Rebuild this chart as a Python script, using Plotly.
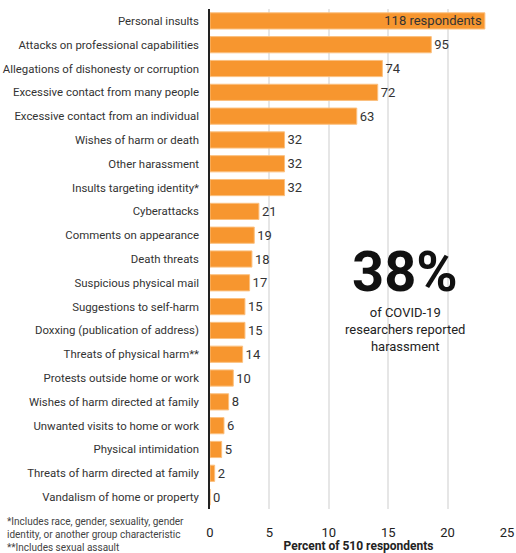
import plotly.graph_objects as go

categories = [
    "Personal insults",
    "Attacks on professional capabilities",
    "Allegations of dishonesty or corruption",
    "Excessive contact from many people",
    "Excessive contact from an individual",
    "Wishes of harm or death",
    "Other harassment",
    "Insults targeting identity*",
    "Cyberattacks",
    "Comments on appearance",
    "Death threats",
    "Suspicious physical mail",
    "Suggestions to self-harm",
    "Doxxing (publication of address)",
    "Threats of physical harm**",
    "Protests outside home or work",
    "Wishes of harm directed at family",
    "Unwanted visits to home or work",
    "Physical intimidation",
    "Threats of harm directed at family",
    "Vandalism of home or property",
]
counts = [118, 95, 74, 72, 63, 32, 32, 32, 21, 19, 18, 17, 15, 15, 14, 10, 8, 6, 5, 2, 0]
total = 510
x_ticks = [0, 5, 10, 15, 20, 25]

percents = [c / total * 100 for c in counts]
labels = [f"{c} respondents" if i == 0 else str(c) for i, c in enumerate(counts)]
positions = ["inside" if i == 0 else "outside" for i in range(len(counts))]

FONT = "Roboto, Arial, sans-serif"

fig = go.Figure(go.Bar(
    x=percents,
    y=categories,
    orientation="h",
    text=labels,
    textposition=positions,
    insidetextanchor="end",
    constraintext="none",
    insidetextfont=dict(color="#333333", size=13, family=FONT),
    outsidetextfont=dict(color="#333333", size=13, family=FONT),
    cliponaxis=False,
    marker=dict(color="#F7962F", line=dict(color="#FBC07F", width=1)),
    hoverinfo="skip",
))

fig.update_layout(
    width=516, height=553,
    margin=dict(l=210, r=9, t=9, b=44, autoexpand=False),
    paper_bgcolor="white", plot_bgcolor="white",
    bargap=0.32,
    showlegend=False,
    font=dict(family=FONT, color="#333333", size=12),
    xaxis=dict(
        range=[0, 25],
        tickvals=x_ticks,
        ticktext=[str(v) for v in x_ticks],
        showgrid=True, gridcolor="#E6E6E6", gridwidth=1.5,
        zeroline=False, showline=False,
        tickfont=dict(size=13, color="#222222"),
        ticks="", ticklabelstandoff=14,
        automargin=False,
        title=dict(text="<b>Percent of 510 respondents</b>", font=dict(size=12, color="#222222"), standoff=2),
    ),
    yaxis=dict(
        autorange="reversed",
        showline=True, linecolor="#222222", linewidth=1.5,
        showgrid=False, zeroline=False,
        ticks="", ticklabelstandoff=7,
        automargin=False,
        tickfont=dict(size=11.4, color="#333333"),
    ),
)

fig.add_annotation(
    x=0.657, y=0.474, xref="paper", yref="paper",
    text="<b>38%</b>", showarrow=False,
    font=dict(size=56, color="#111111", family=FONT),
)
fig.add_annotation(
    x=0.657, y=0.36, xref="paper", yref="paper",
    text="of COVID-19<br>researchers reported<br>harassment", showarrow=False,
    font=dict(size=13, color="#222222", family=FONT), align="center",
)
fig.add_annotation(
    x=0, y=0, xref="paper", yref="paper", xanchor="left", yanchor="bottom",
    xshift=-205, yshift=-46,
    text="*Includes race, gender, sexuality, gender<br>identity, or another group characteristic<br>**Includes sexual assault",
    showarrow=False, align="left",
    font=dict(size=10, color="#444444", family=FONT),
)

fig.write_html("out.html")
